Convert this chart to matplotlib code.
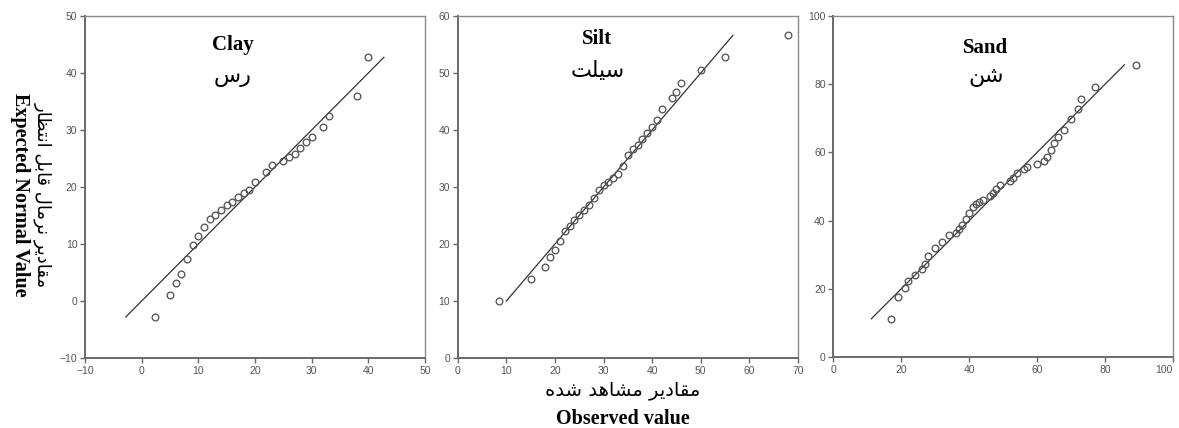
import matplotlib
matplotlib.use("Agg")
import matplotlib.pyplot as plt
import numpy as np

# ---------------- data ----------------
clay_observed = [2.4, 5.0, 6.0, 7.0, 8.0, 9.0, 10.0, 11.0, 12.0, 13.0, 14.0, 15.0, 16.0,
                 17.0, 18.0, 19.0, 20.0, 22.0, 23.0, 25.0, 26.0, 27.0, 28.0, 29.0, 30.0,
                 32.0, 33.0, 38.0, 40.0]
clay_expected = [-2.8, 1.0, 3.1, 4.7, 7.4, 9.8, 11.4, 13.0, 14.3, 15.1, 15.9, 16.8, 17.4,
                 18.3, 18.9, 19.5, 20.8, 22.6, 23.9, 24.6, 25.3, 25.8, 26.8, 27.9, 28.8,
                 30.5, 32.5, 36.0, 42.75]

silt_observed = [8.4, 15.0, 18.0, 19.0, 20.0, 21.0, 22.0, 23.0, 24.0, 25.0, 26.0, 27.0,
                 28.0, 29.0, 30.0, 31.0, 32.0, 33.0, 34.0, 35.0, 36.0, 37.0, 38.0, 39.0,
                 40.0, 41.0, 42.0, 44.0, 45.0, 46.0, 50.0, 55.0, 68.0]
silt_expected = [10.0, 13.9, 16.0, 17.7, 18.95, 20.5, 22.2, 23.2, 24.2, 25.1, 26.0, 26.8,
                 28.1, 29.4, 30.3, 30.9, 31.6, 32.3, 33.7, 35.55, 36.7, 37.4, 38.4, 39.5,
                 40.6, 41.75, 43.7, 45.7, 46.6, 48.3, 50.5, 52.75, 56.6]

sand_observed = [17.1, 19.0, 21.0, 22.0, 24.0, 26.0, 27.0, 28.0, 30.0, 32.0, 34.0, 36.0,
                 37.0, 38.0, 39.0, 40.0, 41.0, 42.0, 43.0, 44.0, 46.0, 47.0, 48.0, 49.0,
                 52.0, 53.0, 54.0, 56.0, 57.0, 60.0, 62.0, 63.0, 64.0, 65.0, 66.0, 68.0,
                 70.0, 72.0, 73.0, 77.0, 89.0]
sand_expected = [11.2, 17.6, 20.2, 22.3, 24.1, 25.7, 27.2, 29.7, 31.9, 33.8, 35.7, 36.5,
                 37.4, 38.8, 40.6, 42.3, 44.0, 45.0, 45.6, 46.0, 47.2, 48.2, 49.4, 50.4,
                 51.5, 52.6, 53.9, 55.0, 55.8, 56.6, 57.5, 58.7, 60.7, 62.8, 64.6, 66.6,
                 69.8, 72.8, 75.6, 79.2, 85.7]

clay_ticks = [-10, 0, 10, 20, 30, 40, 50]
silt_xticks = [0, 10, 20, 30, 40, 50, 60, 70]
silt_yticks = [0, 10, 20, 30, 40, 50, 60]
sand_ticks = [0, 20, 40, 60, 80, 100]

titles_en = ["Clay", "Silt", "Sand"]
titles_fa = ["رس", "سیلت", "شن"]
xlabel_en = "Observed value"
xlabel_fa = "مقادیر مشاهد شده"
ylabel_en = "Expected Normal Value"
ylabel_fa = "مقادیر نرمال قابل انتظار"

# ------------- Arabic-script shaping (matplotlib has no text shaping) -------------
FORMS = {
    'ا': ('\uFE8D', '\uFE8E', None, None),
    'ب': ('\uFE8F', '\uFE90', '\uFE91', '\uFE92'),
    'ت': ('\uFE95', '\uFE96', '\uFE97', '\uFE98'),
    'د': ('\uFEA9', '\uFEAA', None, None),
    'ر': ('\uFEAD', '\uFEAE', None, None),
    'س': ('\uFEB1', '\uFEB2', '\uFEB3', '\uFEB4'),
    'ش': ('\uFEB5', '\uFEB6', '\uFEB7', '\uFEB8'),
    'ظ': ('\uFEC5', '\uFEC6', '\uFEC7', '\uFEC8'),
    'ق': ('\uFED5', '\uFED6', '\uFED7', '\uFED8'),
    'ل': ('\uFEDD', '\uFEDE', '\uFEDF', '\uFEE0'),
    'م': ('\uFEE1', '\uFEE2', '\uFEE3', '\uFEE4'),
    'ن': ('\uFEE5', '\uFEE6', '\uFEE7', '\uFEE8'),
    'ه': ('\uFEE9', '\uFEEA', '\uFEEB', '\uFEEC'),
    'ی': ('\uFBFC', '\uFBFD', '\uFBFE', '\uFBFF'),
}


def dual(c):
    return c in FORMS and FORMS[c][2] is not None


def shape(s):
    out = []
    for i, c in enumerate(s):
        if c not in FORMS:
            out.append(c)
            continue
        prev = s[i - 1] if i > 0 else ''
        nxt = s[i + 1] if i + 1 < len(s) else ''
        jp = dual(prev)
        jn = dual(c) and (nxt in FORMS)
        iso, fin, ini, med = FORMS[c]
        if jp and jn:
            out.append(med)
        elif jp:
            out.append(fin)
        elif jn:
            out.append(ini)
        else:
            out.append(iso)
    return ''.join(out)[::-1]


# ---------------- figure ----------------
W, H = 1179, 428
fig = plt.figure(figsize=(W / 100, H / 100), dpi=100)

SERIF = ['Liberation Serif', 'DejaVu Serif']
ARABIC = ['DejaVu Sans']
TICKFONT = ['Liberation Sans Narrow', 'Liberation Sans', 'DejaVu Sans']

panels = [
    dict(rect=(85 / W, 1 - 358 / H, 340 / W, 342 / H), x=clay_observed, y=clay_expected,
         xlim=(-10, 50), ylim=(-10, 50), xt=clay_ticks, yt=clay_ticks,
         tpos=(233 / W, 1 - 45 / H), fpos=(233 / W, 1 - 77 / H)),
    dict(rect=(457.7 / W, 1 - 358 / H, 340.3 / W, 342 / H), x=silt_observed, y=silt_expected,
         xlim=(0, 70), ylim=(0, 60), xt=silt_xticks, yt=silt_yticks,
         tpos=(597 / W, 1 - 39 / H), fpos=(598 / W, 1 - 71 / H)),
    dict(rect=(833.3 / W, 1 - 357 / H, 339.7 / W, 341 / H), x=sand_observed, y=sand_expected,
         xlim=(0, 100), ylim=(0, 100), xt=sand_ticks, yt=sand_ticks,
         tpos=(986 / W, 1 - 48 / H), fpos=(986 / W, 1 - 77 / H)),
]

for i, p in enumerate(panels):
    ax = fig.add_axes(p['rect'])
    ax.plot(p['x'], p['y'], linestyle='none', marker='o', markersize=4.8,
            markerfacecolor='none', markeredgecolor='#555555', markeredgewidth=0.95,
            zorder=3)
    lo, hi = min(p['y']), max(p['y'])
    ax.plot([lo, hi], [lo, hi], color='#333333', linewidth=0.9, zorder=2)
    ax.set_xlim(*p['xlim'])
    ax.set_ylim(*p['ylim'])
    ax.set_xticks(p['xt'])
    ax.set_yticks(p['yt'])
    ax.tick_params(direction='out', length=3.5, width=1.0, color='#666666',
                   labelsize=7.5, labelcolor='#555555', pad=2)
    for lab in ax.get_xticklabels() + ax.get_yticklabels():
        lab.set_family(TICKFONT)
    if i == 2:
        # keep the last x tick label inside the figure edge
        ax.get_xticklabels()[-1].set_horizontalalignment('right')
    for side in ('left', 'bottom'):
        ax.spines[side].set_color('#6a6a6a')
        ax.spines[side].set_linewidth(1.4)
    for side in ('top', 'right'):
        ax.spines[side].set_color('#8a8a8a')
        ax.spines[side].set_linewidth(1.0)
    fig.text(*p['tpos'], titles_en[i], ha='center', va='center', fontsize=15,
             fontweight='bold', family=SERIF)
    fig.text(*p['fpos'], shape(titles_fa[i]), ha='center', va='center', fontsize=16,
             family=ARABIC)

fig.text(623 / W, 1 - 391 / H, shape(xlabel_fa), ha='center', va='center',
         fontsize=14, family=ARABIC)
fig.text(623 / W, 1 - 419 / H, xlabel_en, ha='center', va='center',
         fontsize=14.5, fontweight='bold', family=SERIF)
fig.text(20 / W, 1 - 195 / H, ylabel_en, ha='center', va='center', rotation=-90,
         fontsize=14.5, fontweight='bold', family=SERIF)
fig.text(43 / W, 1 - 195 / H, shape(ylabel_fa), ha='center', va='center', rotation=-90,
         fontsize=13, family=ARABIC)

fig.savefig('out.png', dpi=100)
